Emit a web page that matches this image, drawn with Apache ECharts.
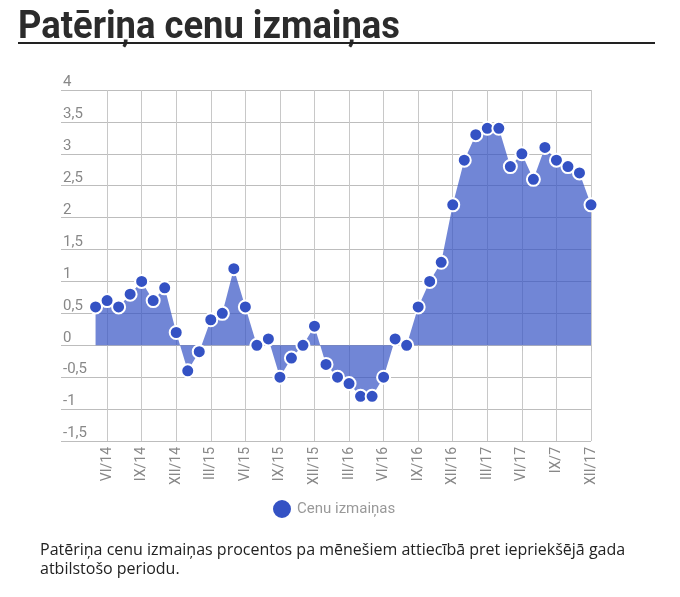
<!DOCTYPE html>
<html>
<head>
<meta charset="utf-8">
<script src="https://cdn.jsdelivr.net/npm/echarts@6/dist/echarts.min.js"></script>
<style>
  html, body { margin: 0; padding: 0; background: #fff; }
  #chart { width: 680px; height: 597px; }
</style>
</head>
<body>
<div id="chart"></div>
<script>
// empty months before the series starts, so the first point sits right of the labels
const leadMonths = ['II/14', 'III/14', 'IV/14'];
const months = [
  'V/14', 'VI/14', 'VII/14', 'VIII/14', 'IX/14', 'X/14', 'XI/14', 'XII/14',
  'I/15', 'II/15', 'III/15', 'IV/15', 'V/15', 'VI/15', 'VII/15', 'VIII/15', 'IX/15', 'X/15', 'XI/15', 'XII/15',
  'I/16', 'II/16', 'III/16', 'IV/16', 'V/16', 'VI/16', 'VII/16', 'VIII/16', 'IX/16', 'X/16', 'XI/16', 'XII/16',
  'I/17', 'II/17', 'III/17', 'IV/17', 'V/17', 'VI/17', 'VII/17', 'VIII/17', 'IX/7', 'X/17', 'XI/17', 'XII/17'
];
const changes = [
  0.6, 0.7, 0.6, 0.8, 1.0, 0.7, 0.9, 0.2,
  -0.4, -0.1, 0.4, 0.5, 1.2, 0.6, 0.0, 0.1, -0.5, -0.2, 0.0, 0.3,
  -0.3, -0.5, -0.6, -0.8, -0.8, -0.5, 0.1, 0.0, 0.6, 1.0, 1.3, 2.2,
  2.9, 3.3, 3.4, 3.4, 2.8, 3.0, 2.6, 3.1, 2.9, 2.8, 2.7, 2.2
];
const seriesName = 'Cenu izmaiņas';
const titleText = 'Patēriņa cenu izmaiņas';
const noteText = 'Patēriņa cenu izmaiņas procentos pa mēnešiem attiecībā pret iepriekšējā gada\natbilstošo periodu.';

const labelFont = "Roboto, sans-serif";
const titleFont = "bold 38px Roboto, sans-serif";
const allMonths = leadMonths.concat(months);
const allValues = leadMonths.map(() => null).concat(changes);
const quarterTick = (idx) => idx >= leadMonths.length && idx % 3 === 1;

// squeeze the title to the condensed width of the original heading
const ctx = document.createElement('canvas').getContext('2d');
ctx.font = titleFont;
const titleScale = 382 / ctx.measureText(titleText).width;

const myChart = echarts.init(document.getElementById('chart'));
myChart.setOption({
  animation: false,
  graphic: [
    {
      type: 'text',
      x: 18,
      y: 47,
      scaleX: titleScale,
      style: {
        text: titleText,
        font: titleFont,
        fill: '#2b2b2b',
        verticalAlign: 'bottom'
      }
    },
    {
      type: 'line',
      shape: { x1: 18, y1: 43, x2: 655, y2: 43 },
      style: { stroke: '#222', lineWidth: 2 }
    },
    {
      type: 'text',
      left: 40,
      top: 541,
      style: {
        text: noteText,
        font: "16px 'Open Sans', sans-serif",
        fill: '#222',
        lineHeight: 19
      }
    }
  ],
  legend: {
    left: 266,
    top: 493,
    icon: 'circle',
    itemWidth: 20,
    itemHeight: 20,
    itemGap: 8,
    textStyle: { color: '#999', fontSize: 15, fontFamily: labelFont },
    data: [seriesName]
  },
  grid: {
    left: 61,
    right: 89,
    top: 90,
    bottom: 156
  },
  xAxis: {
    type: 'category',
    boundaryGap: false,
    data: allMonths,
    axisLine: { show: false },
    axisTick: {
      show: true,
      length: 6,
      interval: quarterTick,
      lineStyle: { color: '#c4c4c4' }
    },
    axisLabel: {
      interval: quarterTick,
      rotate: 90,
      margin: 6,
      color: '#888',
      fontSize: 14,
      fontFamily: labelFont
    },
    splitLine: {
      show: true,
      interval: quarterTick,
      lineStyle: { color: '#c8c8c8' }
    }
  },
  yAxis: {
    type: 'value',
    min: -1.5,
    max: 4,
    interval: 0.5,
    axisLine: { show: false },
    axisTick: { show: false },
    axisLabel: {
      inside: true,
      verticalAlign: 'bottom',
      margin: 2,
      color: '#888',
      fontSize: 15,
      fontFamily: labelFont,
      formatter: (v) => String(v).replace('.', ',')
    },
    splitLine: { lineStyle: { color: '#bdbdbd' } }
  },
  series: [{
    name: seriesName,
    type: 'line',
    data: allValues,
    showAllSymbol: true,
    symbol: 'circle',
    symbolSize: 13,
    itemStyle: {
      color: '#3452c4',
      borderColor: '#fff',
      borderWidth: 2
    },
    lineStyle: { width: 0 },
    areaStyle: { color: '#3452c4', opacity: 0.7 },
    emphasis: { disabled: true }
  }]
});
</script>
</body>
</html>
